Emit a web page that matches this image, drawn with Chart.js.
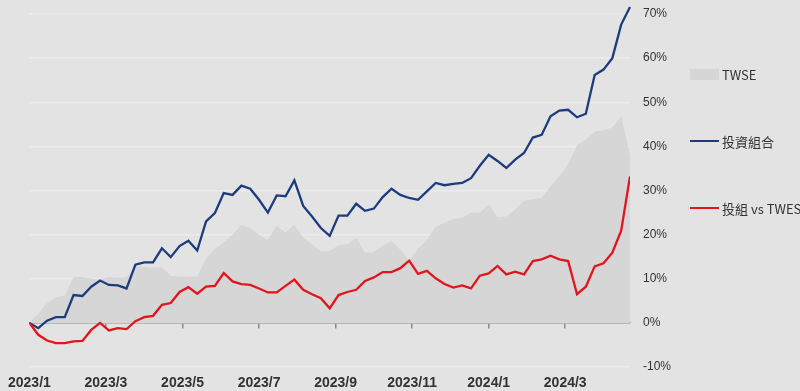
<!DOCTYPE html>
<html>
<head>
<meta charset="utf-8">
<script src="https://cdn.jsdelivr.net/npm/chart.js@4.4.1/dist/chart.umd.min.js"></script>
<style>
    html, body { margin: 0; padding: 0; background: #e3e3e3; }
    #wrap { position: relative; width: 800px; height: 391px; }
    #legend { position: absolute; left: 690px; top: 0; font-family: 'Noto Sans CJK TC', 'Liberation Sans', sans-serif; font-size: 13px; color: #333; }
    .item { position: absolute; left: 0; height: 16px; display: flex; align-items: center; white-space: nowrap; }
    .swatch { width: 29px; margin-right: 3px; }
</style>
</head>
<body>
<div id="wrap">
    <canvas id="perfChart" width="800" height="391"></canvas>
    <div id="legend"></div>
</div>
<script>
// weekly cumulative returns (%), 2023/1 -> 2024/4
const tickLabels = ['2023/1', '2023/3', '2023/5', '2023/7', '2023/9', '2023/11', '2024/1', '2024/3'];
const weeksPerTick = 52 / 6; // two months

const portfolio = [0, -1.2, 0.5, 1.3, 1.3, 6.3, 6.1, 8.2, 9.6, 8.6,
    8.5, 7.8, 13.2, 13.7, 13.7, 16.9, 14.9, 17.4, 18.6, 16.4,
    23.0, 24.9, 29.4, 29.0, 31.1, 30.4, 27.9, 25.0, 28.9, 28.7,
    32.3, 26.5, 24.1, 21.5, 19.7, 24.3, 24.3, 27.0, 25.4, 25.9,
    28.5, 30.4, 29.0, 28.3, 27.9, 29.8, 31.7, 31.2, 31.5, 31.7,
    32.8, 35.6, 38.1, 36.7, 35.1, 37.0, 38.5, 42.0, 42.6, 46.8,
    48.1, 48.3, 46.6, 47.4, 56.2, 57.4, 60.0, 67.6, 71.6];

const excess = [0, -2.7, -4.0, -4.6, -4.6, -4.2, -4.1, -1.6, 0, -1.7,
    -1.2, -1.4, 0.4, 1.3, 1.6, 4.1, 4.5, 7.0, 8.1, 6.6,
    8.2, 8.4, 11.3, 9.4, 8.8, 8.6, 7.8, 6.9, 6.9, 8.4,
    9.8, 7.5, 6.5, 5.6, 3.3, 6.3, 7.0, 7.5, 9.5, 10.3,
    11.5, 11.5, 12.4, 14.1, 11.1, 11.8, 10.1, 8.8, 8.0, 8.5,
    7.8, 10.7, 11.2, 12.9, 11.0, 11.6, 11.0, 14.0, 14.4, 15.2,
    14.4, 14.0, 6.5, 8.2, 12.8, 13.5, 15.9, 20.9, 33.2];

const twse = [0, 2.0, 4.5, 5.8, 6.2, 10.4, 10.4, 10.0, 9.9, 10.4,
    10.2, 10.3, 12.8, 12.7, 12.5, 12.6, 10.6, 10.5, 10.5, 10.5,
    14.6, 16.8, 18.3, 20.0, 22.2, 21.5, 20.0, 18.8, 22.0, 20.5,
    22.2, 19.3, 17.8, 16.2, 16.3, 17.6, 17.8, 19.3, 15.9, 16.0,
    17.5, 18.5, 16.6, 14.2, 16.8, 18.8, 21.8, 22.7, 23.6, 23.8,
    25.0, 25.0, 26.9, 24.0, 24.1, 25.7, 27.7, 28.0, 28.3, 31.0,
    33.3, 36.0, 40.3, 41.5, 43.3, 43.7, 44.2, 46.8, 38.0];

const seriesNames = ['TWSE', '投資組合', '投組 vs TWES'];
const colors = { area: '#d6d6d6', blue: '#1d3c7e', red: '#e2151d', axis: '#8a8a8a', grid: '#ececec', text: '#333333' };

const toPoints = arr => arr.map((v, i) => ({ x: i, y: v }));
const tickValues = tickLabels.map((_, k) => k * weeksPerTick);

const ctx = document.getElementById('perfChart').getContext('2d');
const chart = new Chart(ctx, {
    type: 'line',
    data: {
        datasets: [{
            label: seriesNames[0],
            data: toPoints(twse),
            backgroundColor: colors.area,
            borderWidth: 0,
            fill: 'origin',
            pointRadius: 0,
            order: 3
        }, {
            label: seriesNames[1],
            data: toPoints(portfolio),
            borderColor: colors.blue,
            borderWidth: 2.3,
            pointRadius: 0,
            fill: false,
            clip: false, // last point goes a bit above 70%
            order: 2
        }, {
            label: seriesNames[2],
            data: toPoints(excess),
            borderColor: colors.red,
            borderWidth: 2.3,
            pointRadius: 0,
            fill: false,
            order: 1
        }]
    },
    options: {
        responsive: false,
        animation: false,
        layout: { padding: { left: 27, right: 120, top: 14, bottom: 0 } },
        plugins: { legend: { display: false }, tooltip: { enabled: false } },
        scales: {
            // zero line with tick marks
            x: {
                type: 'linear',
                position: { y: 0 },
                min: 0,
                max: portfolio.length - 1,
                afterBuildTicks: axis => { axis.ticks = tickValues.slice(1).map(v => ({ value: v })); },
                ticks: { display: false },
                grid: { drawOnChartArea: false, drawTicks: true, tickLength: 5, color: colors.axis, lineWidth: 1.5 },
                border: { color: colors.axis, width: 1.5 }
            },
            // date labels at the bottom
            x2: {
                type: 'linear',
                axis: 'x',
                position: 'bottom',
                min: 0,
                max: portfolio.length - 1,
                afterBuildTicks: axis => { axis.ticks = tickValues.map(v => ({ value: v })); },
                afterFit: axis => { axis.height = 24; },
                ticks: {
                    maxRotation: 0,
                    autoSkip: false,
                    padding: 8,
                    color: colors.text,
                    font: { family: "'Liberation Sans', Arial, sans-serif", size: 14, weight: 'bold' },
                    callback: v => tickLabels[Math.round(v / weeksPerTick)]
                },
                grid: { display: false, drawTicks: false },
                border: { display: false }
            },
            y: {
                position: 'right',
                min: -10,
                max: 70,
                afterFit: axis => {
                    axis.width = 50;
                    axis.paddingTop = 0;
                    axis.paddingBottom = 0;
                },
                ticks: {
                    stepSize: 10,
                    padding: 13,
                    color: colors.text,
                    font: { family: "'Liberation Sans', Arial, sans-serif", size: 12 },
                    callback: v => v + '%'
                },
                grid: { color: colors.grid, lineWidth: 1.5, drawTicks: false },
                border: { display: false }
            }
        }
    }
});

// legend on the right, items spread vertically
const legendEl = document.getElementById('legend');
const legendCenters = [74, 141, 208];
chart.data.datasets.forEach((ds, i) => {
    const item = document.createElement('div');
    item.className = 'item';
    item.style.top = (legendCenters[i] - 8) + 'px';
    const sw = document.createElement('span');
    sw.className = 'swatch';
    if (ds.fill === 'origin') {
        sw.style.height = '11px';
        sw.style.background = ds.backgroundColor;
    } else {
        sw.style.height = '2.5px';
        sw.style.background = ds.borderColor;
    }
    const txt = document.createElement('span');
    txt.textContent = ds.label;
    item.appendChild(sw);
    item.appendChild(txt);
    legendEl.appendChild(item);
});
</script>
</body>
</html>
